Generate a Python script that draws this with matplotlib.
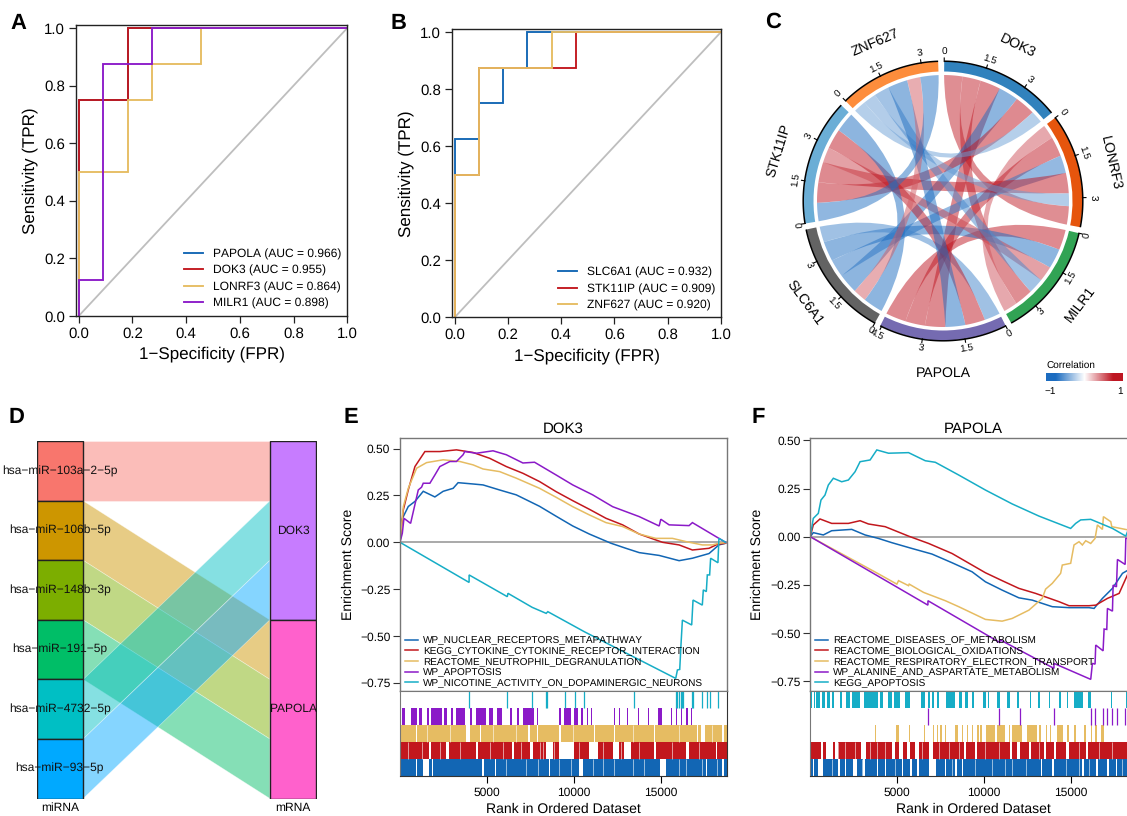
import numpy as np
import matplotlib
matplotlib.use('Agg')
import matplotlib.pyplot as plt
from matplotlib.path import Path
from matplotlib.patches import PathPatch, Rectangle, Wedge
from matplotlib.colors import LinearSegmentedColormap

plt.rcParams['font.family'] = ['Liberation Sans', 'DejaVu Sans']
plt.rcParams['text.hinting'] = 'no_hinting'
plt.rcParams['text.hinting_factor'] = 1
W, H = 1127, 816
fig = plt.figure(figsize=(W / 100, H / 100), dpi=100)

BLUE, RED, YEL, PUR, TEAL = '#1266B4', '#C2171D', '#E6BC62', '#8B1AC8', '#16ADC6'

# ---------- A / B : ROC ----------
roc_a_names = ['PAPOLA (AUC = 0.966)', 'DOK3 (AUC = 0.955)', 'LONRF3 (AUC = 0.864)', 'MILR1 (AUC = 0.898)']
roc_a_fpr = [[0, 0, .182, .182, 1], [0, 0, .182, .182, 1],
             [0, 0, .182, .182, .273, .273, .4545, .4545, 1],
             [0, 0, .091, .091, .273, .273, 1]]
roc_a_tpr = [[0, .75, .75, 1, 1], [0, .75, .75, 1, 1],
             [0, .5, .5, .75, .75, .875, .875, 1, 1],
             [0, .125, .125, .875, .875, 1, 1]]
roc_b_names = ['SLC6A1 (AUC = 0.932)', 'STK11IP (AUC = 0.909)', 'ZNF627 (AUC = 0.920)']
roc_b_fpr = [[0, 0, .091, .091, .182, .182, .273, .273, 1],
             [0, 0, .091, .091, .4545, .4545, 1],
             [0, 0, .091, .091, .364, .364, 1]]
roc_b_tpr = [[0, .625, .625, .75, .75, .875, .875, 1, 1],
             [0, .5, .5, .875, .875, 1, 1],
             [0, .5, .5, .875, .875, 1, 1]]

# ---------- C : chord ----------
genes = ['DOK3', 'LONRF3', 'MILR1', 'PAPOLA', 'SLC6A1', 'STK11IP', 'ZNF627']
gene_colors = ['#3182BD', '#E6550D', '#31A354', '#756BB1', '#636363', '#6BAED6', '#FD8D3C']
corr = [[0, .72, .72, .80, -.78, .80, -.48],
        [.72, 0, .55, .77, -.70, .80, -.50],
        [.72, .55, 0, .80, -.78, .60, -.60],
        [.80, .77, .80, 0, -.62, .78, -.78],
        [-.78, -.70, -.78, -.62, 0, -.78, .52],
        [.80, .80, .60, .78, -.78, 0, -.72],
        [-.48, -.50, -.60, -.78, .52, -.72, 0]]
chord_ticks = [0, 1.5, 3, 4.5]

# ---------- D : alluvial ----------
mirnas = ['hsa\u2212miR\u2212103a\u22122\u22125p', 'hsa\u2212miR\u2212106b\u22125p', 'hsa\u2212miR\u2212148b\u22123p',
          'hsa\u2212miR\u2212191\u22125p', 'hsa\u2212miR\u22124732\u22125p', 'hsa\u2212miR\u221293\u22125p']
mirna_target = ['DOK3', 'PAPOLA', 'PAPOLA', 'PAPOLA', 'DOK3', 'DOK3']
mirna_colors = ['#F8766D', '#CD9600', '#7CAE00', '#00BE67', '#00BFC4', '#00A9FF']
mrnas = ['DOK3', 'PAPOLA']
mrna_colors = ['#C77CFF', '#FF61CC']

# ---------- E : GSEA DOK3 ----------
e_names = ['WP_NUCLEAR_RECEPTORS_METAPATHWAY', 'KEGG_CYTOKINE_CYTOKINE_RECEPTOR_INTERACTION',
           'REACTOME_NEUTROPHIL_DEGRANULATION', 'WP_APOPTOSIS', 'WP_NICOTINE_ACTIVITY_ON_DOPAMINERGIC_NEURONS']
e_rank = [
    [0, 95, 286, 477, 859, 1336, 2004, 2480, 3053, 3339, 4197, 4770, 5724, 6678, 8014, 8968, 9922, 10876, 12117, 12975, 13739, 14884, 16029, 16793, 17747, 18316, 18700],
    [0, 191, 477, 859, 1431, 2290, 3244, 4197, 5151, 6105, 7060, 8014, 8968, 9922, 10876, 11830, 12784, 13739, 15074, 16029, 16793, 17747, 18220, 18700],
    [0, 191, 477, 954, 1527, 2480, 3434, 4197, 4770, 5724, 6678, 8014, 8968, 9922, 10876, 11830, 12784, 13739, 14693, 15646, 16410, 17365, 17938, 18316, 18700],
    [0, 134, 229, 610, 1050, 1240, 1336, 1717, 2004, 2290, 2862, 3244, 3625, 3721, 4388, 5342, 6105, 7060, 7728, 8968, 9922, 11067, 12212, 13739, 14884, 14979, 15456, 16601, 16793, 18316, 18700],
    [0, 3969, 3969, 6163, 6200, 7594, 8395, 8491, 10589, 15836, 15932, 16065, 16142, 16218, 16752, 16829, 17362, 17420, 17592, 17649, 17783, 17840, 18259, 18316, 18700],
]
e_es = [
    [0, .119, .155, .191, .218, .272, .242, .272, .288, .318, .311, .306, .279, .253, .192, .139, .087, .044, -.005, -.032, -.055, -.07, -.098, -.085, -.06, -.014, -.005],
    [0, .173, .280, .404, .484, .484, .493, .479, .448, .404, .368, .324, .270, .222, .176, .128, .093, .044, 0, -.014, -.041, -.032, -.011, -.005],
    [0, .190, .288, .395, .425, .440, .431, .413, .391, .377, .342, .288, .240, .190, .146, .105, .084, .044, .021, .021, .004, -.014, -.014, -.005, -.002],
    [0, .048, .128, .101, .279, .294, .315, .315, .359, .404, .431, .431, .467, .484, .475, .488, .467, .423, .427, .359, .306, .253, .190, .137, .087, .123, .093, .089, .105, .021, 0],
    [0, -.214, -.174, -.290, -.272, -.347, -.379, -.370, -.477, -.726, -.681, -.678, -.539, -.415, -.441, -.308, -.335, -.254, -.263, -.174, -.174, -.085, -.109, .021, 0],
]
e_rug_teal = [3969, 6163, 7594, 8395, 8452, 9502, 10055, 10589, 13451, 15836, 15932, 16027, 16123, 16218, 16276, 16752, 16829, 17362, 17611, 17783, 18279]
e_rug_purple = [(95, 286), (611, 992), (1107, 1240), (1565, 1679), (1755, 2385), (2519, 2709), (2957, 3053), (3205, 3721), (4045, 4121), (4388, 4961), (5113, 5342), (5571, 5858), (6335, 6430), (6735, 6812), (7060, 7670), (7861, 7937), (9120, 9254), (9445, 9826), (10017, 10208), (10399, 10494), (10723, 10799), (10971, 11028), (12268, 12364), (12593, 12650), (13013, 13070), (13642, 13700), (14215, 14310), (14825, 15035), (15550, 15607), (15836, 15894), (16123, 16180), (16447, 16523), (16714, 16771)]
e_gaps_yellow = [(916, 954), (3778, 4007), (4579, 4656), (7346, 7441), (7861, 7937), (9158, 9254), (11162, 11219), (12307, 12364), (14597, 14654), (17077, 17134), (17267, 17515), (18508, 18603)]
e_gaps_red = [(1679, 1755), (2671, 2805), (4388, 4465), (6449, 6525), (7441, 7632), (8395, 8777), (9158, 10017), (10837, 11353), (12212, 12555), (12879, 13261), (14597, 14692), (16409, 16600), (18126, 18221)]
e_gaps_blue = [(916, 992), (1336, 1679), (1813, 1908), (4732, 4827), (5438, 5495), (8548, 8624), (10303, 10494), (14921, 15264), (17553, 17611), (18508, 18603)]
e_fine_yellow = [1526, 2862, 5342, 6678, 9922, 13356, 16027, 17935]
e_fine_red = [477, 1240, 2290, 3434, 5151, 5915, 6964, 8014, 8204, 8872, 10303, 11639, 12688, 13738, 15646, 17172]
e_fine_blue = [6106, 7250, 7918, 9158, 9826, 11066, 11639, 12307, 13356, 14024, 16027, 16409, 17363, 18221]

# ---------- F : GSEA PAPOLA ----------
f_names = ['REACTOME_DISEASES_OF_METABOLISM', 'REACTOME_BIOLOGICAL_OXIDATIONS',
           'REACTOME_RESPIRATORY_ELECTRON_TRANSPORT', 'WP_ALANINE_AND_ASPARTATE_METABOLISM', 'KEGG_APOPTOSIS']
f_rank = [
    [0, 173, 750, 1231, 2385, 3154, 3923, 4692, 5846, 7000, 8154, 9308, 10077, 11038, 12000, 12769, 13923, 14885, 16038, 16327, 16808, 17385, 17962, 18288],
    [0, 173, 558, 1231, 2192, 2865, 3346, 4308, 5654, 6808, 8154, 9308, 10077, 11038, 12000, 12961, 14308, 14885, 16038, 16423, 17096, 17769, 18288],
    [0, 3769, 4981, 5077, 5654, 5692, 6519, 7769, 8538, 10077, 11038, 11615, 12577, 13346, 13538, 13923, 14404, 14500, 14981, 15173, 15462, 15654, 15846, 16135, 16385, 16519, 16808, 16865, 17288, 17346, 18288],
    [0, 6769, 6769, 10885, 10942, 14019, 14019, 16135, 16231, 16385, 16423, 16846, 16904, 17058, 17096, 17385, 17423, 17615, 17673, 18115, 18154, 18288],
    [0, 173, 462, 615, 846, 1038, 1327, 1808, 2192, 2577, 2865, 3442, 3827, 4500, 5654, 6615, 7192, 8538, 10077, 11615, 13154, 14981, 15269, 15558, 16135, 17385, 18154, 18288],
]
f_es = [
    [0, .021, .009, .031, .038, .009, -.009, -.031, -.061, -.090, -.135, -.182, -.234, -.277, -.317, -.329, -.363, -.368, -.368, -.372, -.320, -.268, -.190, -.173],
    [0, .061, .092, .069, .069, .083, .066, .052, .003, -.035, -.087, -.147, -.187, -.228, -.268, -.294, -.337, -.358, -.358, -.355, -.320, -.294, -.190],
    [0, -.185, -.246, -.228, -.254, -.246, -.289, -.332, -.363, -.429, -.438, -.424, -.381, -.320, -.272, -.242, -.190, -.147, -.138, -.043, -.026, -.043, -.021, -.035, -.009, .061, .038, .104, .078, .052, .035],
    [0, -.355, -.332, -.548, -.536, -.683, -.657, -.740, -.657, -.661, -.562, -.592, -.479, -.481, -.372, -.386, -.251, -.260, -.118, -.144, -.009, -.009],
    [0, .095, .121, .190, .216, .268, .303, .285, .294, .337, .389, .398, .450, .433, .436, .394, .386, .320, .242, .170, .107, .043, .069, .087, .090, .043, .003, .035],
]
f_rug_teal = [(0, 77), (192, 269), (346, 577), (692, 846), (942, 1135), (1269, 1365), (1711, 1808), (2038, 2308), (2385, 2865), (3119, 3888), (4019, 4211), (4500, 4692), (4788, 5173), (5423, 5750), (6365, 6615), (6769, 6865), (7000, 7096), (7288, 7385), (7808, 8346), (8538, 8731), (8923, 9077), (9308, 9404), (9923, 10115), (10231, 10308), (10750, 10942), (11327, 11519), (11904, 12000), (12615, 12673), (13115, 13192), (13731, 13808), (14308, 14404), (14788, 14846), (15173, 15692), (16000, 16154), (17288, 17346), (18154, 18212)]
f_rug_purple = [6769, 10885, 12077, 14019, 16135, 16385, 16865, 17058, 17346, 17673, 18115]
f_rug_yellow = [(3740, 3800), (4942, 5115), (5670, 5730), (6519, 6615), (7038, 7115), (7288, 7346), (7481, 7577), (7769, 7827), (8308, 8500), (8731, 8808), (9019, 9077), (9308, 9365), (9596, 9692), (9788, 9885), (10115, 10654), (10750, 11231), (11423, 11519), (11615, 12192), (12481, 13058), (13154, 13250), (13538, 13635), (13769, 13827), (14212, 14538), (14788, 14885), (15173, 15269), (15750, 15846), (16135, 16231), (16385, 16519), (16712, 16904)]
f_gaps_red = [(615, 750), (904, 1327), (1423, 1615), (2923, 3192), (4692, 4885), (5077, 5308), (5558, 5750), (6038, 6269), (6808, 7038), (8827, 8962), (9500, 9596), (11519, 11615), (11904, 12038), (12577, 12673), (13442, 13538), (14019, 14115), (14692, 14885), (15846, 16000)]
f_gaps_blue = [(135, 231), (423, 711), (1615, 1692), (2000, 2058), (2481, 2673), (3058, 3154), (3827, 3904), (4308, 4385), (5269, 5346), (5750, 5846), (6135, 6231), (6846, 7231), (7769, 7827), (8346, 8442), (8731, 8788), (13250, 13346), (13923, 14019), (15654, 15769), (16423, 16538), (17096, 17192), (17577, 17635)]
f_fine_red = [1615, 2000, 2577, 3442, 3827, 4308, 6423, 7385, 7960, 8538, 10077, 10846, 13154, 15461, 16615, 17385]
f_fine_blue = [1231, 2961, 4885, 8154, 9500, 10461, 11230, 11615, 12384, 14692, 15461, 16038, 17961]

panel_letters = ['A', 'B', 'C', 'D', 'E', 'F']


def ax_px(l, t, r, b, **kw):
    return fig.add_axes([l / W, 1 - b / H, (r - l) / W, (b - t) / H], **kw)


def txt_px(x, y, s, **kw):
    return fig.text(x / W, 1 - y / H, s, **kw)


# ---------- panels A, B ----------
def roc(box, x_per, y_zero, y_per, x_zero, fprs, tprs, names, cols, leg_anchor, ylab_x):
    l, t, r, b = box
    ax = ax_px(l, t, r, b)
    ax.set_xlim((l - x_zero) / x_per, (r - x_zero) / x_per)
    ax.set_ylim((y_zero - b) / y_per, (y_zero - t) / y_per)
    ax.plot([0, 1], [0, 1], color='#BEBEBE', lw=1.3)
    for xs, ys, n, c in zip(fprs, tprs, names, cols):
        ax.plot(xs, ys, color=c, lw=1.35, label=n, solid_joinstyle='miter')
    ax.set_xticks(np.arange(0, 1.01, .2))
    ax.set_yticks(np.arange(0, 1.01, .2))
    ax.tick_params(labelsize=10.5, length=5, width=.9, pad=3, color='#222222')
    for s in ax.spines.values():
        s.set_linewidth(1)
        s.set_color('#222222')
    ax.set_xlabel('1\u2212Specificity (FPR)', fontsize=12.2, labelpad=4)
    ax.set_ylabel('Sensitivity (TPR)', fontsize=12.2, labelpad=4)
    ax.yaxis.set_label_coords((ylab_x - l) / (r - l), .5)
    ax.legend(loc='lower left', frameon=False, fontsize=8.8, handlelength=1.53, handletextpad=.84,
              labelspacing=.43, borderpad=0, borderaxespad=0,
              bbox_to_anchor=((leg_anchor[0] - l) / (r - l), (b - leg_anchor[1]) / (b - t)))
    return ax


roc((76.3, 25, 347.3, 316), 268.6, 316, 288, 78.7, roc_a_fpr, roc_a_tpr, roc_a_names,
    [BLUE, RED, YEL, PUR], (184, 309), 38)
roc((452.3, 29.3, 721, 317.3), 266.3, 317.3, 285.3, 454.7, roc_b_fpr, roc_b_tpr, roc_b_names,
    [BLUE, RED, YEL], (558, 311), 414)

# ---------- panel C ----------
cx, cy, half = 943, 201, 180
axc = ax_px(cx - half, cy - half, cx + half, cy + half)
axc.set_xlim(-half, half)
axc.set_ylim(-half, half)
axc.axis('off')
axc.patch.set_alpha(0)
corr_cmap = LinearSegmentedColormap.from_list(
    'corr', [(0, '#1C6CC0'), (.125, '#1C6CC0'), (.5, '#FFFFFF'), (.875, '#BE1622'), (1, '#BE1622')])


def cw(r, deg):
    a = np.radians(deg)
    return r * np.sin(a), r * np.cos(a)


def upright(deg):
    d = deg % 360
    return 180 - d if 90 < d < 270 else -d


def control(d1, d2, R):
    diff = (d2 - d1 + 180) % 360 - 180          # signed short way
    mid = d1 + diff / 2
    return cw(.06 * R * (abs(diff) / 180) ** 2, mid)


n = len(genes)
c_arr = np.array(corr)
sizes = np.abs(c_arr).sum(axis=1)
gap = 2.5
unit = (360 - n * gap) / sizes.sum()
starts = []
pos = 0.5
anchors = {}
for i in range(n):
    starts.append(pos)
    cur = pos
    for k in range(1, n):
        j = (i + k) % n
        w = abs(c_arr[i, j]) * unit
        anchors[(i, j)] = (cur, cur + w)
        cur += w
    pos = cur + gap

R_LINK, R_IN, R_OUT = 126, 129.5, 139.5
for i in range(n):
    a0 = starts[i]
    a1 = a0 + sizes[i] * unit
    axc.add_patch(Wedge((0, 0), R_OUT, 90 - a1, 90 - a0, width=R_OUT - R_IN, fc=gene_colors[i], ec='none'))
    th = np.linspace(a0, a1, 60)
    axc.plot(*cw(R_OUT + .3, th), color='black', lw=1.1, solid_capstyle='butt')
    for tv in chord_ticks:
        if tv <= sizes[i]:
            tdeg = a0 + tv * unit
            x0, y0 = cw(R_OUT, tdeg)
            x1, y1 = cw(R_OUT + 3.5, tdeg)
            axc.plot([x0, x1], [y0, y1], color='black', lw=.8)
            tx, ty = cw(149, tdeg)
            axc.text(tx, ty, f'{tv:g}', fontsize=7.4, ha='center', va='center',
                     rotation=upright(tdeg), rotation_mode='anchor')
    mid = (a0 + a1) / 2
    tx, ty = cw(172, mid)
    axc.text(tx, ty, genes[i], fontsize=10.2, ha='center', va='center', rotation=upright(mid), rotation_mode='anchor')

links = [(c_arr[i, j], i, j) for i in range(n) for j in range(i + 1, n)]
for val, i, j in links:
    a0, a1 = anchors[(i, j)]
    b0, b1 = anchors[(j, i)]
    verts, codes = [], []
    ta = np.linspace(a0, a1, 12)
    tb = np.linspace(b0, b1, 12)
    for k, d in enumerate(ta):
        verts.append(cw(R_LINK, d))
        codes.append(Path.MOVETO if k == 0 else Path.LINETO)
    verts += [control(a1, b0, R_LINK), cw(R_LINK, b0)]
    codes += [Path.CURVE3, Path.CURVE3]
    for d in tb[1:]:
        verts.append(cw(R_LINK, d))
        codes.append(Path.LINETO)
    verts += [control(b1, a0, R_LINK), cw(R_LINK, a0)]
    codes += [Path.CURVE3, Path.CURVE3]
    col = corr_cmap((val + 1) / 2)
    axc.add_patch(PathPatch(Path(verts, codes), fc=col, ec='none', alpha=.5))

axb = ax_px(1046, 373, 1123, 381)
axb.imshow(np.linspace(-1, 1, 200)[None, :], aspect='auto', cmap=corr_cmap, vmin=-1, vmax=1, extent=[-1, 1, 0, 1])
axb.axis('off')
txt_px(1046, 365, 'Correlation', fontsize=7.4, ha='left', va='center')
txt_px(1050, 391, '\u22121', fontsize=7.4, ha='center', va='center')
txt_px(1120, 391, '1', fontsize=7.4, ha='center', va='center')

# ---------- panel D ----------
axd = ax_px(36.5, 441.3, 316.5, 798.5)
axd.set_xlim(.9, 2.1)
axd.set_ylim(0, 6)
sw = .1
nm = len(mirnas)
right_cursor = nm
flows = {}
for g in mrnas:
    for i, t in enumerate(mirna_target):
        if t == g:
            flows[i] = right_cursor
            right_cursor -= 1
for i in range(nm):
    top = nm - i
    rt = flows[i]
    axd.fill([1 + sw, 2 - sw, 2 - sw, 1 + sw], [top, rt, rt - 1, top - 1],
             fc=mirna_colors[i], alpha=.48, ec='white', lw=.5, zorder=1)
for i in range(nm):
    top = nm - i
    axd.add_patch(Rectangle((1 - sw, top - 1), 2 * sw, 1, fc=mirna_colors[i], ec='#222222', lw=1, zorder=2))
    axd.text(1, top - .5, mirnas[i], ha='center', va='center', fontsize=8.3, zorder=3, color='#111111')
top = nm
for g, c in zip(mrnas, mrna_colors):
    cnt = mirna_target.count(g)
    axd.add_patch(Rectangle((2 - sw, top - cnt), 2 * sw, cnt, fc=c, ec='#222222', lw=1, zorder=2))
    axd.text(2, top - cnt / 2, g, ha='center', va='center', fontsize=8.3, zorder=3, color='#111111')
    top -= cnt
axd.set_xticks([1, 2], ['miRNA', 'mRNA'])
axd.set_yticks([])
axd.tick_params(length=0, labelsize=8.3, pad=3)
for s in axd.spines.values():
    s.set_visible(False)


# ---------- panels E, F ----------
def gsea(left, right, top, mid, bot, y_zero, y_per, title, ranks, ess, names, cols, rows, title_x, leg_x, ylab_x):
    XL = (1, 18780)
    ax = ax_px(left, top, right, mid)
    ax.set_xlim(*XL)
    ax.set_ylim((y_zero - mid) / y_per, (y_zero - top) / y_per)
    ax.axhline(0, color='#A9A9A9', lw=1.4)
    for xs, ys, nm_, c in zip(ranks, ess, names, cols):
        ax.plot(xs, ys, color=c, lw=1.1, label=nm_, solid_joinstyle='miter')
    ax.set_xticks([])
    ax.set_yticks([-.75, -.5, -.25, 0, .25, .5], ['\u22120.75', '\u22120.50', '\u22120.25', '0.00', '0.25', '0.50'])
    ax.tick_params(labelsize=8.6, length=5, width=.8, pad=2, color='#333333')
    for s in ax.spines.values():
        s.set_color('#777777')
        s.set_linewidth(1)
    ax.set_ylabel('Enrichment Score', fontsize=10.2)
    ax.yaxis.set_label_coords((ylab_x - left) / (right - left), .5)
    fig.text(title_x / W, 1 - 429 / H, title, fontsize=10.6, ha='center', va='center')
    ax.legend(loc='lower left', frameon=False, fontsize=7.4, handlelength=1.26, handletextpad=.5,
              labelspacing=.13, borderpad=0, borderaxespad=0,
              bbox_to_anchor=((leg_x - left) / (right - left), (mid - 688) / (mid - top)))
    rug = ax_px(left, mid, right, bot)
    rug.set_xlim(*XL)
    rug.set_ylim(0, 5)
    for y, row in zip(range(5), rows):
        kind, data, c = row[:3]
        if kind == 'gaps':
            rug.broken_barh([(0, 18780)], (y, 1), fc=c, ec='none')
            rug.broken_barh([(a, b - a) for a, b in data], (y, 1), fc='white', ec='none')
            if len(row) > 3:
                rug.vlines(row[3], y, y + 1, color='white', lw=.5, alpha=.8)
        elif kind == 'spans':
            rug.broken_barh([(a, b - a) for a, b in data], (y, 1), fc=c, ec='none')
        else:
            rug.vlines(data, y, y + 1, color=c, lw=.9)
    rug.set_yticks([])
    rug.set_xticks([5000, 10000, 15000])
    rug.tick_params(labelsize=8.6, length=5, width=.8, pad=3)
    rug.spines['top'].set_color('#777777')
    rug.spines['left'].set_color('#777777')
    rug.spines['right'].set_color('#333333')
    rug.spines['bottom'].set_color('#333333')
    rug.set_xlabel('Rank in Ordered Dataset', fontsize=10.2, labelpad=3)


cols = [BLUE, RED, YEL, PUR, TEAL]
gsea(400, 727, 438, 690.7, 776, 542.3, 187.5, 'DOK3', e_rank, e_es, e_names, cols,
     [('gaps', e_gaps_blue, BLUE, e_fine_blue), ('gaps', e_gaps_red, RED, e_fine_red),
      ('gaps', e_gaps_yellow, YEL, e_fine_yellow),
      ('spans', e_rug_purple, PUR), ('ticks', e_rug_teal, TEAL)], 563, 405, 355)
gsea(810.3, 1136.7, 438, 690.7, 776, 536.7, 192.8, 'PAPOLA', f_rank, f_es, f_names, cols,
     [('gaps', f_gaps_blue, BLUE, f_fine_blue), ('gaps', f_gaps_red, RED, f_fine_red),
      ('spans', f_rug_yellow, YEL), ('ticks', f_rug_purple, PUR), ('spans', f_rug_teal, TEAL)],
     973, 815, 764)

# ---------- panel letters ----------
letter_pos = [(10, 29), (391, 29), (765, 28), (9, 423), (344, 423), (752, 423)]
for ch, (x, y) in zip(panel_letters, letter_pos):
    txt_px(x, y, ch, fontsize=15.5, fontweight='bold', ha='left', va='baseline')

fig.savefig('out.png', dpi=100)
